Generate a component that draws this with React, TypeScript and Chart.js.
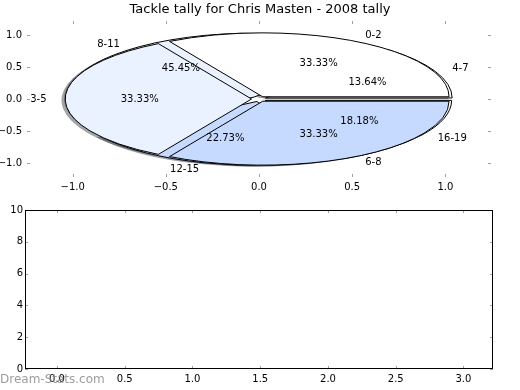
import React, { useEffect, useRef } from "react";
import { Chart, registerables } from "chart.js";

Chart.register(...registerables);

const TITLE = "Tackle tally for Chris Masten - 2008 tally";
const WATERMARK = "Dream-Stats.com";

// Pie drawn underneath
const PIE_B_LABELS = ["4-7", "8-11", "12-15", "16-19"];
const PIE_B_VALUES = [3, 10, 5, 4];
const PIE_B_COLORS = ["#ffffff", "#ebf2ff", "#c6d9ff", "#ffffff"];

// Pie drawn on top
const PIE_A_LABELS = ["0-2", "3-5", "6-8"];
const PIE_A_VALUES = [1, 1, 1];
const PIE_A_COLORS = ["#ffffff", "#ebf2ff", "#c6d9ff"];

const EXPLODE = 0.04;

const TOP_X_TICKS = [-1, -0.5, 0, 0.5, 1];
const TOP_Y_TICKS = [-1, -0.5, 0, 0.5, 1];
const BOTTOM_X_TICKS = [0, 0.5, 1, 1.5, 2, 2.5, 3];
const BOTTOM_Y_TICKS = [0, 2, 4, 6, 8, 10];

const FONT = "DejaVu Sans";

const fmt1 = (v: number) => {
  const s = Math.abs(v).toFixed(1);
  return v < 0 ? "\u2212" + s : s;
};

function shadowColor(hex: string) {
  const r = parseInt(hex.slice(1, 3), 16);
  const g = parseInt(hex.slice(3, 5), 16);
  const b = parseInt(hex.slice(5, 7), 16);
  return `rgba(${Math.round(r * 0.3)},${Math.round(g * 0.3)},${Math.round(b * 0.3)},0.5)`;
}

type Wedge = { a1: number; a2: number; mid: number; color: string; label: string; pct: string };

function makeWedges(labels: string[], values: number[], colors: string[]): Wedge[] {
  const total = values.reduce((a, b) => a + b, 0);
  let acc = 0;
  return values.map((v, i) => {
    const a1 = (acc / total) * Math.PI * 2;
    acc += v;
    const a2 = (acc / total) * Math.PI * 2;
    return {
      a1,
      a2,
      mid: (a1 + a2) / 2,
      color: colors[i % colors.length],
      label: labels[i],
      pct: ((v / total) * 100).toFixed(2) + "%",
    };
  });
}

function insideTicks(chart: any, color: string, len: number) {
  const { ctx, chartArea } = chart;
  const xs = chart.scales.x;
  const ys = chart.scales.y;
  ctx.save();
  ctx.strokeStyle = color;
  ctx.lineWidth = 1;
  ctx.beginPath();
  xs.ticks.forEach((t: any) => {
    const px = Math.round(xs.getPixelForValue(t.value)) + 0.5;
    ctx.moveTo(px, chartArea.top);
    ctx.lineTo(px, chartArea.top + len);
    ctx.moveTo(px, chartArea.bottom);
    ctx.lineTo(px, chartArea.bottom - len);
  });
  ys.ticks.forEach((t: any) => {
    const py = Math.round(ys.getPixelForValue(t.value)) + 0.5;
    ctx.moveTo(chartArea.left, py);
    ctx.lineTo(chartArea.left + len, py);
    ctx.moveTo(chartArea.right, py);
    ctx.lineTo(chartArea.right - len, py);
  });
  ctx.stroke();
  ctx.restore();
}

const piePlugin = {
  id: "ellipsePie",
  afterDatasetsDraw(chart: any) {
    const { ctx } = chart;
    const xs = chart.scales.x;
    const ys = chart.scales.y;
    const x0 = xs.getPixelForValue(0);
    const y0 = ys.getPixelForValue(0);
    const sx = xs.getPixelForValue(1) - x0;
    const sy = y0 - ys.getPixelForValue(1);
    const wedgesB = makeWedges(PIE_B_LABELS, PIE_B_VALUES, PIE_B_COLORS);
    const wedgesA = makeWedges(PIE_A_LABELS, PIE_A_VALUES, PIE_A_COLORS);

    const path = (w: Wedge, ox: number, oy: number) => {
      const cx = EXPLODE * Math.cos(w.mid) + ox;
      const cy = EXPLODE * Math.sin(w.mid) + oy;
      ctx.save();
      ctx.translate(x0, y0);
      ctx.scale(sx, -sy);
      ctx.beginPath();
      ctx.moveTo(cx, cy);
      ctx.arc(cx, cy, 1, w.a1, w.a2, false);
      ctx.closePath();
      ctx.restore();
    };

    // shadows first
    [...wedgesB, ...wedgesA].forEach((w) => {
      path(w, -0.02, -0.02);
      ctx.fillStyle = shadowColor(w.color);
      ctx.fill();
    });
    // wedges
    [...wedgesB, ...wedgesA].forEach((w) => {
      path(w, 0, 0);
      ctx.fillStyle = w.color;
      ctx.fill();
      ctx.strokeStyle = "#000";
      ctx.lineWidth = 1;
      ctx.stroke();
    });

    // texts
    ctx.save();
    ctx.fillStyle = "#000";
    ctx.font = `10px "${FONT}"`;
    ctx.textBaseline = "middle";
    [...wedgesB, ...wedgesA].forEach((w) => {
      const c = Math.cos(w.mid);
      const s = Math.sin(w.mid);
      const lx = (1.1 + EXPLODE) * c;
      const ly = (1.1 + EXPLODE) * s;
      ctx.textAlign = lx > 0 ? "left" : "right";
      ctx.fillText(w.label, xs.getPixelForValue(lx), ys.getPixelForValue(ly));
      const px = (0.6 + EXPLODE) * c;
      const py = (0.6 + EXPLODE) * s;
      ctx.textAlign = "center";
      ctx.fillText(w.pct, xs.getPixelForValue(px), ys.getPixelForValue(py));
    });
    ctx.restore();
  },
  afterDraw(chart: any) {
    insideTicks(chart, "#a0a0a0", 3);
    const { ctx } = chart;
    ctx.save();
    ctx.fillStyle = "#000";
    ctx.font = `13px "${FONT}"`;
    ctx.textAlign = "center";
    ctx.textBaseline = "middle";
    ctx.fillText(TITLE, 260, 10);
    ctx.restore();
  },
};

const framePlugin = {
  id: "frame",
  afterDraw(chart: any) {
    const { ctx, chartArea } = chart;
    insideTicks(chart, "#a0a0a0", 3);
    ctx.save();
    ctx.strokeStyle = "#000";
    ctx.lineWidth = 1;
    ctx.strokeRect(
      Math.round(chartArea.left) + 0.5,
      Math.round(chartArea.top) + 0.5,
      Math.round(chartArea.right - chartArea.left) - 1,
      Math.round(chartArea.bottom - chartArea.top) - 1
    );
    ctx.fillStyle = "rgba(140,140,140,0.85)";
    ctx.font = `12px "${FONT}"`;
    ctx.textAlign = "left";
    ctx.textBaseline = "middle";
    ctx.fillText(WATERMARK, 0, 180);
    ctx.restore();
  },
};

const tickFont = { family: FONT, size: 10 };
const noGrid = { display: false, drawTicks: false, tickLength: 0 };

export default function App() {
  const topRef = useRef<HTMLCanvasElement>(null);
  const botRef = useRef<HTMLCanvasElement>(null);

  useEffect(() => {
    document.body.style.margin = "0";
    const top = new Chart(topRef.current as HTMLCanvasElement, {
      type: "scatter",
      data: { datasets: [{ data: [] }] },
      options: {
        animation: false,
        responsive: false,
        maintainAspectRatio: false,
        events: [],
        layout: { padding: { left: 0, right: 29, top: 21, bottom: 0 } },
        plugins: { legend: { display: false }, tooltip: { enabled: false } },
        scales: {
          x: {
            type: "linear",
            min: -1.245,
            max: 1.245,
            afterBuildTicks: (s: any) => {
              s.ticks = TOP_X_TICKS.map((v) => ({ value: v }));
            },
            afterFit: (s: any) => {
              s.height = 23;
            },
            grid: noGrid,
            border: { display: false },
            ticks: { font: tickFont, color: "#000", padding: 4, maxRotation: 0, autoSkip: false, callback: (v: any) => fmt1(Number(v)) },
          },
          y: {
            type: "linear",
            min: -1.22,
            max: 1.22,
            afterBuildTicks: (s: any) => {
              s.ticks = TOP_Y_TICKS.map((v) => ({ value: v }));
            },
            afterFit: (s: any) => {
              s.width = 27;
            },
            grid: noGrid,
            border: { display: false },
            ticks: { font: tickFont, color: "#000", padding: 5, autoSkip: false, callback: (v: any) => fmt1(Number(v)) },
          },
        },
      } as any,
      plugins: [piePlugin],
    });

    const bot = new Chart(botRef.current as HTMLCanvasElement, {
      type: "scatter",
      data: { datasets: [{ data: [] }] },
      options: {
        animation: false,
        responsive: false,
        maintainAspectRatio: false,
        events: [],
        layout: { padding: { left: 0, right: 27, top: 10, bottom: 0 } },
        plugins: { legend: { display: false }, tooltip: { enabled: false } },
        scales: {
          x: {
            type: "linear",
            min: -0.236,
            max: 3.218,
            afterBuildTicks: (s: any) => {
              s.ticks = BOTTOM_X_TICKS.map((v) => ({ value: v }));
            },
            afterFit: (s: any) => {
              s.height = 21;
            },
            grid: noGrid,
            border: { display: false },
            ticks: { font: tickFont, color: "#000", padding: 4, maxRotation: 0, autoSkip: false, callback: (v: any) => fmt1(Number(v)) },
          },
          y: {
            type: "linear",
            min: 0,
            max: 10,
            afterBuildTicks: (s: any) => {
              s.ticks = BOTTOM_Y_TICKS.map((v) => ({ value: v }));
            },
            afterFit: (s: any) => {
              s.width = 25;
            },
            grid: noGrid,
            border: { display: false },
            ticks: { font: tickFont, color: "#000", padding: 2, autoSkip: false, callback: (v: any) => String(v) },
          },
        },
      } as any,
      plugins: [framePlugin],
    });

    return () => {
      top.destroy();
      bot.destroy();
    };
  }, []);

  return (
    <div style={{ position: "absolute", left: 0, top: 0, width: 520, height: 390, background: "#fff" }}>
      <canvas ref={topRef} width={520} height={200} style={{ position: "absolute", left: 0, top: 0, width: 520, height: 200 }} />
      <canvas ref={botRef} width={520} height={190} style={{ position: "absolute", left: 0, top: 200, width: 520, height: 190 }} />
    </div>
  );
}
